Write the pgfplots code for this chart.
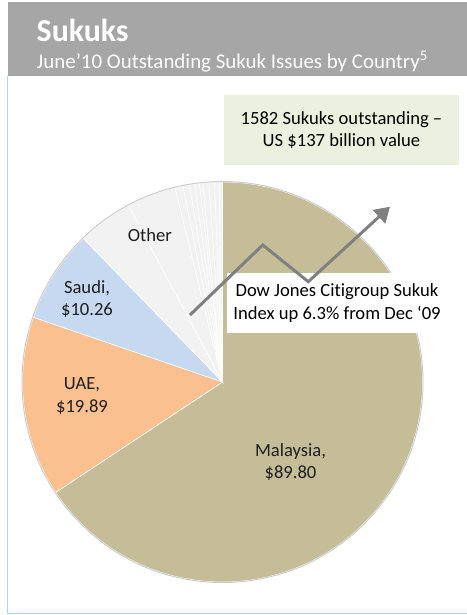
\documentclass[border=0pt]{standalone}
\usepackage{pgfplots}
\pgfplotsset{compat=1.18}
\usepackage{pgfplotstable}
\usepackage{fontspec}
\setmainfont{Carlito}[Ligatures=NoCommon]
\usetikzlibrary{arrows.meta}

\definecolor{headGray}{HTML}{A6A6A6}
\definecolor{frameBlue}{HTML}{A8DAEA}
\definecolor{boxGreen}{HTML}{EBF1DE}
\definecolor{malayTan}{HTML}{C4BD97}
\definecolor{uaeOrange}{HTML}{FAC090}
\definecolor{saudiBlue}{HTML}{C6D9F1}
\definecolor{otherGray}{HTML}{F2F2F2}
\definecolor{arrowGray}{HTML}{808080}
\definecolor{labelInk}{HTML}{1F1F1F}

% outstanding sukuk issues, US$ bn (the "other" countries split into the thin slices)
\pgfplotstableread{
country  value  col
Malaysia 89.80  malayTan
UAE      19.89  uaeOrange
Saudi    10.26  saudiBlue
Other    6.09   otherGray
o2       5.44   otherGray
o3       0.88   otherGray
o4       0.72   otherGray
o5       0.57   otherGray
o6       0.53   otherGray
o7       0.34   otherGray
o8       0.70   otherGray
o9       0.60   otherGray
o10      0.50   otherGray
o11      0.37   otherGray
}\sukuk

\pgfplotstablegetrowsof{\sukuk}
\pgfmathtruncatemacro\lastrow{\pgfplotsretval-1}
\def\total{0}
\pgfplotsforeachungrouped \i in {0,...,\lastrow}{%
  \pgfplotstablegetelem{\i}{value}\of\sukuk
  \pgfmathsetmacro\total{\total+\pgfplotsretval}%
}

\newcommand\bodyfont{\fontsize{18.67}{22.5}\selectfont}

\begin{document}
\begin{tikzpicture}
\path[use as bounding box] (0,0) rectangle (467bp,-615bp);
\fill[white] (0,0) rectangle (467bp,-615bp);

% header band
\fill[headGray] (7.5bp,-2bp) rectangle (467bp,-76bp);
\node[anchor=base west, inner sep=0pt, text=white,
      font=\fontsize{32}{32}\selectfont\bfseries] at (36.5bp,-41.7bp) {Sukuks};
\node[anchor=base west, inner sep=0pt, text=white,
      font=\fontsize{21}{21}\selectfont] at (36.5bp,-68bp)
      {June’10 Outstanding Sukuk Issues by Country\textsuperscript{5}};
\draw[frameBlue, line width=1.5bp] (7.5bp,-76bp) -- (7.5bp,-613.5bp) -- (467bp,-613.5bp);

\begin{axis}[
  at={(222.5bp,-382bp)}, anchor=center,
  x=200bp, y=200bp,
  xmin=-1, xmax=1, ymin=-1, ymax=1,
  hide axis, clip=false,
]
  \def\cum{0}
  \pgfplotsforeachungrouped \i in {0,...,\lastrow}{%
    \pgfplotstablegetelem{\i}{value}\of\sukuk \let\sv\pgfplotsretval
    \pgfplotstablegetelem{\i}{col}\of\sukuk \let\scol\pgfplotsretval
    \pgfmathsetmacro\sA{90-\cum/\total*360}%
    \pgfmathsetmacro\sB{90-(\cum+\sv)/\total*360}%
    \pgfmathsetmacro\sx{cos(\sA)}%
    \pgfmathsetmacro\sy{sin(\sA)}%
    \edef\drawslice{\noexpand\fill[fill=\scol, draw=white, line width=0.6bp]
      (axis cs:0,0) -- (axis cs:\sx,\sy)
      arc[start angle=\sA, end angle=\sB, radius=200bp] -- cycle;}%
    \drawslice
    \pgfmathsetmacro\cum{\cum+\sv}%
  }
  \draw[black!20, line width=1bp] (axis cs:0,0) circle[radius=200.5bp];

  \node[text=labelInk, font=\bodyfont, align=center] at (axis cs:-0.363,0.735) {Other};
  \node[text=labelInk, font=\bodyfont, align=center] at (axis cs:-0.6775,0.415) {Saudi,\\\$10.26};
  \node[text=labelInk, font=\bodyfont, align=center] at (axis cs:-0.7025,-0.07) {UAE,\\\$19.89};
  \node[text=labelInk, font=\bodyfont, align=center] at (axis cs:0.34,-0.40) {Malaysia,\\\$89.80};
\end{axis}

% call-out boxes and index arrow
\fill[boxGreen] (224bp,-95bp) rectangle (459bp,-165bp);
\node[font=\bodyfont, align=center, text=black] at (341.5bp,-130bp)
  {1582 Sukuks outstanding –\\US \$137 billion value};

\fill[white] (226.7bp,-272.7bp) rectangle (447bp,-333bp);
\node[font=\bodyfont, align=center, text=black] at (337bp,-303bp)
  {Dow Jones Citigroup Sukuk\\Index up 6.3\% from Dec ‘09};

\draw[arrowGray, line width=3bp, line join=miter,
      -{Triangle[length=15bp, width=18bp]}]
  (190bp,-315bp) -- (262.7bp,-245bp) -- (308.3bp,-281.7bp) -- (390bp,-206.7bp);
\end{tikzpicture}
\end{document}
